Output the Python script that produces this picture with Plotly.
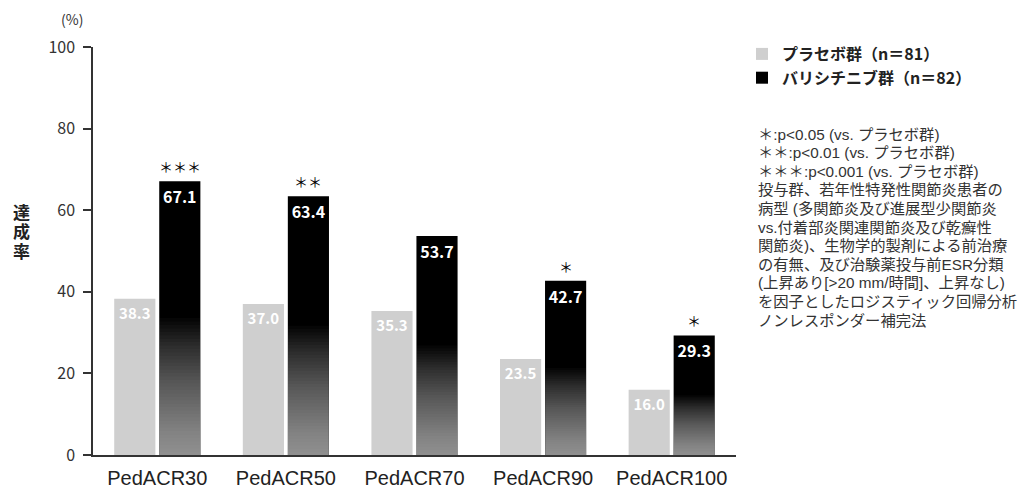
import plotly.graph_objects as go

# ---- data ----
categories = ["PedACR30", "PedACR50", "PedACR70", "PedACR90", "PedACR100"]
placebo = [38.3, 37.0, 35.3, 23.5, 16.0]
baricitinib = [67.1, 63.4, 53.7, 42.7, 29.3]
significance = ["＊＊＊", "＊＊", "", "＊", "＊"]
placebo_name = "プラセボ群（n＝81）"
bari_name = "バリシチニブ群（n＝82）"
y_ticks = [0, 20, 40, 60, 80, 100]
note_lines = [
    "＊:p<0.05 (vs. プラセボ群)",
    "＊＊:p<0.01 (vs. プラセボ群)",
    "＊＊＊:p<0.001 (vs. プラセボ群)",
    "投与群、若年性特発性関節炎患者の",
    "病型 (多関節炎及び進展型少関節炎",
    "vs.付着部炎関連関節炎及び乾癬性",
    "関節炎)、生物学的製剤による前治療",
    "の有無、及び治験薬投与前ESR分類",
    "(上昇あり[>20 mm/時間]、上昇なし)",
    "を因子としたロジスティック回帰分析",
    "ノンレスポンダー補完法",
]

FONT = "Noto Sans CJK JP"
FONT_MIX = "Liberation Sans, Noto Sans CJK JP"

# page (window) is 1030x491; the html body adds an 8px margin
O = 8
W, H = 1030 - 2 * O, 491 - O
PLOT_L, PLOT_R, PLOT_T, PLOT_B = 93, 736, 47, 455   # page pixels
ML = PLOT_L - O
MR = W - (PLOT_R - O)
MT = PLOT_T - O
MB = H - (PLOT_B - O)
PW = W - ML - MR
PH = H - MT - MB

BW = 0.32
OFF_P = -0.335
OFF_B = 0.015


def px_x(x):
    return (x - PLOT_L) / PW


def px_y(y):
    return 1 - (y - PLOT_T) / PH


fig = go.Figure()

fig.add_trace(go.Bar(
    x=categories, y=placebo, name=placebo_name,
    width=BW, offset=OFF_P,
    marker=dict(color="#cfcfcf", line=dict(width=0)),
    texttemplate="%{y:.1f}", textposition="inside", insidetextanchor="end",
    textfont=dict(color="white", size=15, family=FONT, weight="bold"),
    textangle=0,
))
fig.add_trace(go.Bar(
    x=categories, y=baricitinib, name=bari_name,
    width=BW, offset=OFF_B,
    marker=dict(color="#000000", line=dict(width=0)),
    texttemplate="%{y:.1f}", textposition="inside", insidetextanchor="end",
    textfont=dict(color="white", size=16, family=FONT, weight="bold"),
    textangle=0,
))

# bottom fade (gradient approximation) via stacked translucent white overlays
N = 40
for series, off, alpha, span in ((placebo, OFF_P, 0.011, 0.65), (baricitinib, OFF_B, 0.024, 0.5)):
    for k in range(1, N + 1):
        frac = span * k / N
        fig.add_trace(go.Bar(
            x=categories, y=[v * frac for v in series],
            width=BW, offset=off,
            marker=dict(color=f"rgba(255,255,255,{alpha})", line=dict(width=0)),
            showlegend=False, hoverinfo="skip",
        ))

# significance marks
for c, v, s in zip(categories, baricitinib, significance):
    if s:
        fig.add_annotation(
            x=c, y=v, xref="x", yref="y", text=s, showarrow=False,
            xshift=(OFF_B + BW / 2) * PW / 5, yshift=14,
            font=dict(size=14, color="#000000", family=FONT_MIX),
        )

# notes on the right (one annotation per line)
for i, line in enumerate(note_lines):
    fig.add_annotation(
        x=px_x(756), y=px_y(134 + i * 18.6), xref="paper", yref="paper",
        text=line, showarrow=False, xanchor="left", yanchor="middle",
        align="left", font=dict(size=15.3, color="#333", family=FONT_MIX),
    )

fig.add_annotation(
    x=px_x(72), y=px_y(19), xref="paper", yref="paper",
    text="(%)", showarrow=False, xanchor="center", yanchor="middle",
    font=dict(size=14, color="#333", family=FONT),
)
for i, ch in enumerate("達成率"):
    fig.add_annotation(
        x=px_x(21), y=px_y(213 + i * 19.5), xref="paper", yref="paper",
        text=f"<b>{ch}</b>", showarrow=False, xanchor="center", yanchor="middle",
        font=dict(size=17, color="#222", family=FONT_MIX),
    )

fig.update_layout(
    width=W, height=H,
    margin=dict(l=ML, r=MR, t=MT, b=MB, pad=0, autoexpand=False),
    barmode="overlay",
    plot_bgcolor="white", paper_bgcolor="white",
    font=dict(family=FONT, color="#222"),
    showlegend=True,
    legend=dict(
        x=px_x(742), y=px_y(37),
        xanchor="left", yanchor="top",
        font=dict(size=16, color="#222", family=FONT, weight="bold"),
        tracegroupgap=0, itemsizing="constant",
        bgcolor="rgba(0,0,0,0)",
    ),
    xaxis=dict(
        range=[-0.5, 4.5], showline=True, linecolor="#333", linewidth=1.5,
        ticks="", tickfont=dict(size=20, color="#222", family=FONT_MIX),
        ticklabelstandoff=4, automargin=False,
        showgrid=False, zeroline=False, fixedrange=True,
    ),
    yaxis=dict(
        range=[0, 100], tickvals=y_ticks, showline=True, linecolor="#333", linewidth=1.5,
        ticks="outside", ticklen=8, tickcolor="#333", tickwidth=1.5,
        tickfont=dict(size=16, color="#333", family=FONT),
        ticklabelstandoff=5, automargin=False,
        showgrid=False, zeroline=False, fixedrange=True,
    ),
)

fig.write_html("out.html")
